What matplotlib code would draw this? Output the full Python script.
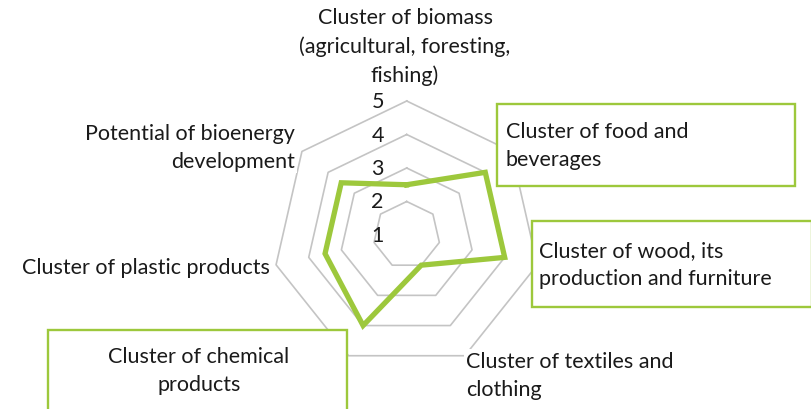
import numpy as np
import matplotlib
matplotlib.use("Agg")
import matplotlib.pyplot as plt
from matplotlib.patches import Rectangle

# data
categories = [
    "Cluster of biomass\n(agricultural, foresting,\nfishing)",
    "Cluster of food and\nbeverages",
    "Cluster of wood, its\nproduction and furniture",
    "Cluster of textiles and\nclothing",
    "Cluster of chemical\nproducts",
    "Cluster of plastic products",
    "Potential of bioenergy\ndevelopment",
]
values = [2.5, 4, 4, 2, 4, 3.5, 3.5]
levels = [1, 2, 3, 4, 5]
rmin = 1

# layout (pixels)
W, H = 811, 410
CX, CY = 406.7, 236.0
U = 33.5  # px per unit

GREEN = "#9DC83C"
GRID = "#C4C4C4"
FONT = "Lato"
FS = 15.5

plt.rcParams["font.family"] = [FONT, "DejaVu Sans"]

fig = plt.figure(figsize=(W / 100, H / 100), dpi=100)
ax = fig.add_axes([0, 0, 1, 1])
ax.set_xlim(-CX / U, (W - CX) / U)
ax.set_ylim(-(H - CY) / U, CY / U)
ax.set_aspect("equal")
ax.axis("off")


def px(x, y):
    return (x - CX) / U, (CY - y) / U


n = len(categories)
ang = np.arange(n) * 2 * np.pi / n
ang_c = np.append(ang, ang[0])

# heptagon grid
for lv in levels[1:]:
    r = lv - rmin
    ax.plot(r * np.sin(ang_c), r * np.cos(ang_c), color=GRID, lw=1.2, zorder=1)

# data line
r = np.array(values + values[:1]) - rmin
ax.plot(r * np.sin(ang_c), r * np.cos(ang_c), color=GREEN, lw=3.8,
        solid_joinstyle="miter", zorder=3)

# axis numbers
for lv in levels:
    ax.text(-0.87, lv - rmin, str(lv), ha="center", va="center", fontsize=FS,
            color="#1a1a1a", zorder=4)

# label boxes (green border)
boxes = {1: (497, 105, 795, 187), 2: (532, 222, 812, 308), 4: (48, 331, 347, 412)}
for i, (x0, y0, x1, y1) in boxes.items():
    ax.add_patch(Rectangle(px(x0, y1), (x1 - x0) / U, (y1 - y0) / U,
                           facecolor="white", edgecolor=GREEN, lw=1.7, zorder=2))

white = dict(facecolor="white", edgecolor="none", pad=1.5)
label_pos = [
    (405, 47, "center", "center", white),
    (506, 146, "left", "center", None),
    (539, 265, "left", "center", None),
    (466, 376, "left", "center", white),
    (199, 371, "center", "center", None),
    (270, 268, "right", "center", white),
    (295, 148, "right", "center", white),
]
for txt, (x, y, ha, va, bb) in zip(categories, label_pos):
    ax.text(*px(x, y), txt, ha=ha, va=va, multialignment=ha, fontsize=FS,
            linespacing=1.5, color="#1a1a1a", bbox=bb, zorder=5)

fig.savefig("out.png", dpi=100)
